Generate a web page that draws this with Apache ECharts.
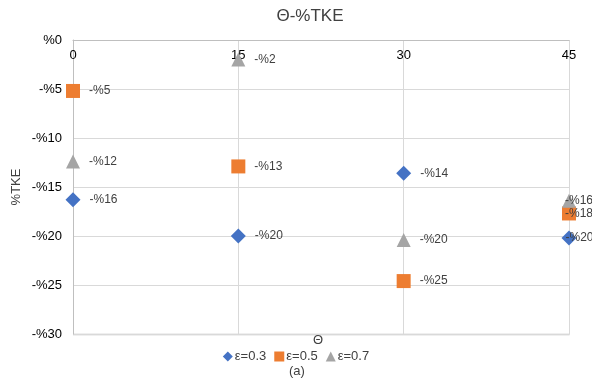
<!DOCTYPE html>
<html>
<head>
<meta charset="utf-8">
<script src="https://cdn.jsdelivr.net/npm/echarts@6/dist/echarts.min.js"></script>
<style>
  html, body { margin: 0; padding: 0; background: #fff; }
  #chart { width: 592px; height: 385px; }
</style>
</head>
<body>
<div id="chart"></div>
<script>
// Angle values (Θ) and %TKE change for each strain level ε
var thetas = [0, 15, 30, 45];
var eps03 = [-16.3, -20.0, -13.6, -20.2];
var eps05 = [-5.2, -12.9, -24.6, -17.7];
var eps07 = [-12.4, -2.0, -20.4, -16.4];
var yTicks = [0, -5, -10, -15, -20, -25, -30];
var seriesNames = ['ε=0.3', 'ε=0.5', 'ε=0.7'];

var FONT = 'Liberation Sans, Arial, sans-serif';
var TXT = '#404040';

function pct(v) {
  var r = Math.round(Math.abs(v));
  return (v < 0 && r !== 0 ? '-' : '') + '%' + r;
}

function points(vals) {
  return vals.map(function (v, i) {
    var item = { value: [thetas[i], v] };
    // points on the right border get their labels pulled back inside
    if (i === thetas.length - 1) {
      item.label = { offset: [-20, 0] };
    }
    return item;
  });
}

function makeSeries(name, vals, symbol, size, color) {
  return {
    name: name,
    type: 'scatter',
    symbol: symbol,
    symbolSize: size,
    itemStyle: { color: color, opacity: 1 },
    data: points(vals),
    label: {
      show: true,
      position: 'right',
      distance: 9,
      color: TXT,
      fontFamily: FONT,
      fontSize: 12,
      formatter: function (p) { return pct(p.value[1]); }
    }
  };
}

var chart = echarts.init(document.getElementById('chart'));
chart.setOption({
  animation: false,
  backgroundColor: '#fff',
  title: {
    text: 'Θ-%TKE',
    left: 305,
    top: 3,
    textAlign: 'center',
    textStyle: { fontFamily: FONT, fontSize: 17, fontWeight: 'normal', color: TXT }
  },
  grid: { left: 73, right: 23, top: 40, bottom: 51, outerBoundsMode: 'none' },
  xAxis: {
    type: 'value',
    position: 'top',
    min: 0, max: 45, interval: 15,
    axisLine: { show: true, lineStyle: { color: '#bfbfbf', width: 1 } },
    axisTick: { show: false },
    axisLabel: {
      inside: true, margin: 9,
      color: '#000', fontFamily: FONT, fontSize: 13,
      formatter: function (v) { return thetas.indexOf(v) >= 0 ? String(v) : ''; }
    },
    splitLine: { show: true, lineStyle: { color: '#d9d9d9', width: 1 } }
  },
  yAxis: {
    type: 'value',
    min: -30, max: 0, interval: 5,
    name: '%TKE',
    nameLocation: 'middle',
    nameGap: 50,
    nameMoveOverlap: false,
    nameTextStyle: { fontFamily: FONT, fontSize: 13, color: TXT },
    axisLine: { show: true, lineStyle: { color: '#bfbfbf', width: 1 } },
    axisTick: { show: false },
    axisLabel: {
      margin: 11,
      color: '#000', fontFamily: FONT, fontSize: 13,
      formatter: function (v) { return yTicks.indexOf(v) >= 0 ? pct(v) : ''; }
    },
    splitLine: { show: true, lineStyle: { color: '#d9d9d9', width: 1 } }
  },
  legend: {
    data: seriesNames,
    left: 'center',
    top: 345,
    itemWidth: 10,
    itemHeight: 10,
    itemGap: 8,
    textStyle: { fontFamily: FONT, fontSize: 13, color: TXT, padding: [0, 0, 0, -3] }
  },
  graphic: [
    // right and bottom plot borders
    { type: 'line', shape: { x1: 569.5, y1: 40, x2: 569.5, y2: 334 }, style: { stroke: '#bfbfbf', lineWidth: 1 }, z: 0 },
    { type: 'line', shape: { x1: 73, y1: 334.5, x2: 569.5, y2: 334.5 }, style: { stroke: '#bfbfbf', lineWidth: 1.5 }, z: 0 },
    { type: 'text', left: 313, top: 334, style: { text: 'Θ', fontFamily: FONT, fontSize: 13, fill: TXT } },
    { type: 'text', left: 289, top: 365, style: { text: '(a)', fontFamily: FONT, fontSize: 13, fill: TXT } }
  ],
  series: [
    makeSeries(seriesNames[0], eps03, 'diamond', 15, '#4472c4'),
    makeSeries(seriesNames[1], eps05, 'rect', 14, '#ed7d31'),
    makeSeries(seriesNames[2], eps07, 'triangle', 14, '#a5a5a5')
  ]
});
</script>
</body>
</html>
